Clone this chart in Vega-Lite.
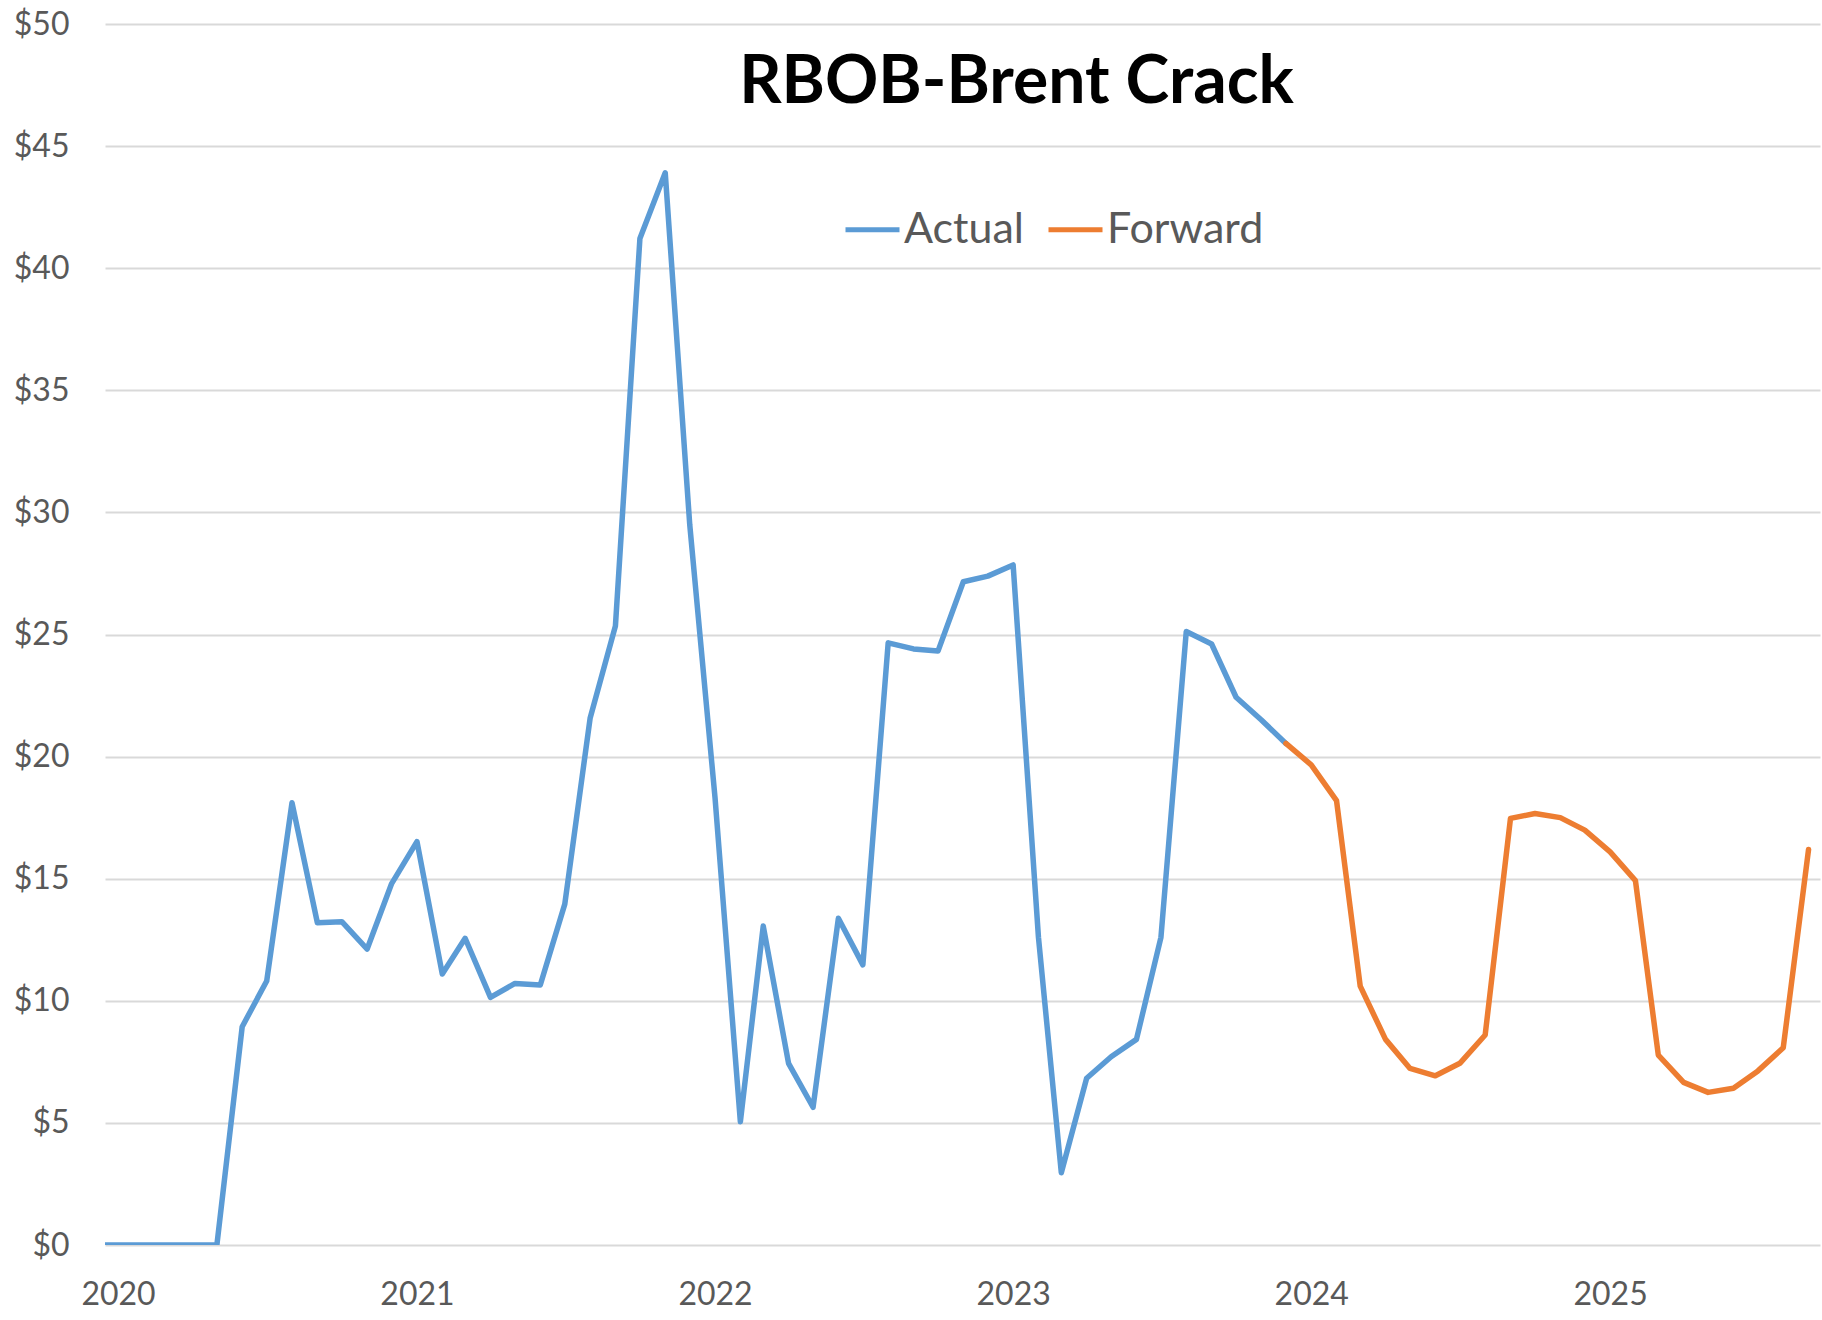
{
  "$schema": "https://vega.github.io/schema/vega-lite/v6.json",
  "width": 1715,
  "height": 1221,
  "autosize": {"type": "none"},
  "padding": {"left": 105, "top": 24, "right": 2, "bottom": 75},
  "background": "white",
  "title": {
    "text": "RBOB-Brent Crack",
    "font": "Lato",
    "fontWeight": "bold",
    "fontSize": 66,
    "color": "#000000",
    "anchor": "middle",
    "frame": "group",
    "baseline": "alphabetic",
    "offset": 0,
    "dx": 54,
    "dy": 161
  },
  "data": {
    "values": [
      {"date": "2019-12-01", "value": 0, "series": "Actual"},
      {"date": "2020-01-01", "value": 0, "series": "Actual"},
      {"date": "2020-02-01", "value": 0, "series": "Actual"},
      {"date": "2020-03-01", "value": 0, "series": "Actual"},
      {"date": "2020-04-01", "value": 0, "series": "Actual"},
      {"date": "2020-05-01", "value": 0, "series": "Actual"},
      {"date": "2020-06-01", "value": 8.94, "series": "Actual"},
      {"date": "2020-07-01", "value": 10.81, "series": "Actual"},
      {"date": "2020-08-01", "value": 18.11, "series": "Actual"},
      {"date": "2020-09-01", "value": 13.2, "series": "Actual"},
      {"date": "2020-10-01", "value": 13.24, "series": "Actual"},
      {"date": "2020-11-01", "value": 12.12, "series": "Actual"},
      {"date": "2020-12-01", "value": 14.8, "series": "Actual"},
      {"date": "2021-01-01", "value": 16.52, "series": "Actual"},
      {"date": "2021-02-01", "value": 11.1, "series": "Actual"},
      {"date": "2021-03-01", "value": 12.56, "series": "Actual"},
      {"date": "2021-04-01", "value": 10.14, "series": "Actual"},
      {"date": "2021-05-01", "value": 10.71, "series": "Actual"},
      {"date": "2021-06-01", "value": 10.65, "series": "Actual"},
      {"date": "2021-07-01", "value": 13.96, "series": "Actual"},
      {"date": "2021-08-01", "value": 21.57, "series": "Actual"},
      {"date": "2021-09-01", "value": 25.35, "series": "Actual"},
      {"date": "2021-10-01", "value": 41.22, "series": "Actual"},
      {"date": "2021-11-01", "value": 43.91, "series": "Actual"},
      {"date": "2021-12-01", "value": 29.5, "series": "Actual"},
      {"date": "2022-01-01", "value": 18.3, "series": "Actual"},
      {"date": "2022-02-01", "value": 5.05, "series": "Actual"},
      {"date": "2022-03-01", "value": 13.06, "series": "Actual"},
      {"date": "2022-04-01", "value": 7.44, "series": "Actual"},
      {"date": "2022-05-01", "value": 5.64, "series": "Actual"},
      {"date": "2022-06-01", "value": 13.38, "series": "Actual"},
      {"date": "2022-07-01", "value": 11.47, "series": "Actual"},
      {"date": "2022-08-01", "value": 24.66, "series": "Actual"},
      {"date": "2022-09-01", "value": 24.41, "series": "Actual"},
      {"date": "2022-10-01", "value": 24.32, "series": "Actual"},
      {"date": "2022-11-01", "value": 27.16, "series": "Actual"},
      {"date": "2022-12-01", "value": 27.39, "series": "Actual"},
      {"date": "2023-01-01", "value": 27.85, "series": "Actual"},
      {"date": "2023-02-01", "value": 12.6, "series": "Actual"},
      {"date": "2023-03-01", "value": 2.96, "series": "Actual"},
      {"date": "2023-04-01", "value": 6.83, "series": "Actual"},
      {"date": "2023-05-01", "value": 7.71, "series": "Actual"},
      {"date": "2023-06-01", "value": 8.42, "series": "Actual"},
      {"date": "2023-07-01", "value": 12.6, "series": "Actual"},
      {"date": "2023-08-01", "value": 25.12, "series": "Actual"},
      {"date": "2023-09-01", "value": 24.61, "series": "Actual"},
      {"date": "2023-10-01", "value": 22.43, "series": "Actual"},
      {"date": "2023-11-01", "value": 21.5, "series": "Actual"},
      {"date": "2023-12-01", "value": 20.54, "series": "Actual"},
      {"date": "2023-12-01", "value": 20.54, "series": "Forward"},
      {"date": "2024-01-01", "value": 19.66, "series": "Forward"},
      {"date": "2024-02-01", "value": 18.2, "series": "Forward"},
      {"date": "2024-03-01", "value": 10.6, "series": "Forward"},
      {"date": "2024-04-01", "value": 8.42, "series": "Forward"},
      {"date": "2024-05-01", "value": 7.23, "series": "Forward"},
      {"date": "2024-06-01", "value": 6.93, "series": "Forward"},
      {"date": "2024-07-01", "value": 7.44, "series": "Forward"},
      {"date": "2024-08-01", "value": 8.6, "series": "Forward"},
      {"date": "2024-09-01", "value": 17.47, "series": "Forward"},
      {"date": "2024-10-01", "value": 17.67, "series": "Forward"},
      {"date": "2024-11-01", "value": 17.5, "series": "Forward"},
      {"date": "2024-12-01", "value": 16.99, "series": "Forward"},
      {"date": "2025-01-01", "value": 16.1, "series": "Forward"},
      {"date": "2025-02-01", "value": 14.92, "series": "Forward"},
      {"date": "2025-03-01", "value": 7.78, "series": "Forward"},
      {"date": "2025-04-01", "value": 6.66, "series": "Forward"},
      {"date": "2025-05-01", "value": 6.25, "series": "Forward"},
      {"date": "2025-06-01", "value": 6.42, "series": "Forward"},
      {"date": "2025-07-01", "value": 7.13, "series": "Forward"},
      {"date": "2025-08-01", "value": 8.08, "series": "Forward"},
      {"date": "2025-09-01", "value": 16.2, "series": "Forward"}
    ]
  },
  "mark": {"type": "line", "strokeWidth": 5.5, "strokeJoin": "round", "strokeCap": "round", "clip": true},
  "encoding": {
    "x": {
      "field": "date",
      "type": "temporal",
      "scale": {
        "type": "utc",
        "domain": [
          {"year": 2019, "month": 12, "date": 16, "utc": true},
          {"year": 2025, "month": 9, "date": 15, "utc": true}
        ]
      },
      "axis": {
        "title": null,
        "values": [1577836800000, 1609459200000, 1640995200000, 1672531200000, 1704067200000, 1735689600000],
        "format": "%Y",
        "formatType": "utc",
        "grid": false,
        "ticks": false,
        "domain": false,
        "labelFont": "Lato",
        "labelFontSize": 32,
        "labelColor": "#595959",
        "labelPadding": 34
      }
    },
    "y": {
      "field": "value",
      "type": "quantitative",
      "scale": {"domain": [0, 50], "nice": false, "zero": true},
      "axis": {
        "title": null,
        "values": [0, 5, 10, 15, 20, 25, 30, 35, 40, 45, 50],
        "labelExpr": "'$' + datum.value",
        "grid": true,
        "gridColor": "#D9D9D9",
        "gridWidth": 2,
        "ticks": false,
        "domain": false,
        "labelFont": "Lato",
        "labelFontSize": 32,
        "labelColor": "#595959",
        "labelPadding": 36
      }
    },
    "color": {
      "field": "series",
      "type": "nominal",
      "scale": {"domain": ["Actual", "Forward"], "range": ["#5B9BD5", "#ED7D31"]},
      "legend": {
        "title": null,
        "orient": "none",
        "legendX": 738,
        "legendY": 176,
        "direction": "horizontal",
        "symbolType": "stroke",
        "symbolSize": 2916,
        "symbolStrokeWidth": 5,
        "labelFont": "Lato",
        "labelFontSize": 43,
        "labelColor": "#595959",
        "labelOffset": 2,
        "columnPadding": 14,
        "padding": 0
      }
    }
  },
  "config": {
    "view": {"stroke": null}
  }
}
